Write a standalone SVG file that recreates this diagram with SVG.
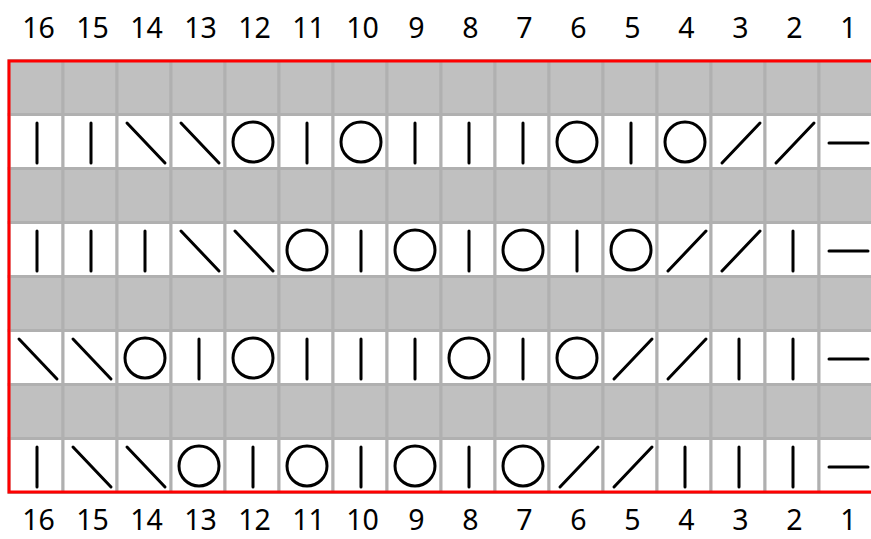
<svg xmlns="http://www.w3.org/2000/svg" xmlns:xlink="http://www.w3.org/1999/xlink" width="871" height="539" viewBox="0 0 871 539">
<style>
.lbl{font-family:"Noto Sans","Open Sans",sans-serif;font-size:28.5px;fill:#000;text-anchor:middle}
.g{fill:#c0c0c0;stroke:#b0b0b0;stroke-width:3}
.w{fill:#fff;stroke:#b0b0b0;stroke-width:3}
.s{fill:none;stroke:#000;stroke-width:3;stroke-linecap:round}
</style>
<defs>
<path id="v" class="s" d="M0,-19V21"/>
<path id="b" class="s" d="M-18,-19L20,21"/>
<path id="f" class="s" d="M-17,21L21,-19"/>
<path id="d" class="s" d="M-18,1H21"/>
<circle id="o" class="s" r="20"/>
</defs>
<g id="top-labels">
<text class="lbl" x="38.5" y="38">16</text><text class="lbl" x="92.5" y="38">15</text><text class="lbl" x="146.5" y="38">14</text><text class="lbl" x="200.5" y="38">13</text><text class="lbl" x="254.5" y="38">12</text><text class="lbl" x="308.5" y="38">11</text><text class="lbl" x="362.5" y="38">10</text><text class="lbl" x="416.5" y="38">9</text><text class="lbl" x="470.5" y="38">8</text><text class="lbl" x="524.5" y="38">7</text><text class="lbl" x="578.5" y="38">6</text><text class="lbl" x="632.5" y="38">5</text><text class="lbl" x="686.5" y="38">4</text><text class="lbl" x="740.5" y="38">3</text><text class="lbl" x="794.5" y="38">2</text><text class="lbl" x="848.5" y="38">1</text>
</g>
<g id="bottom-labels">
<text class="lbl" x="38.5" y="530">16</text><text class="lbl" x="92.5" y="530">15</text><text class="lbl" x="146.5" y="530">14</text><text class="lbl" x="200.5" y="530">13</text><text class="lbl" x="254.5" y="530">12</text><text class="lbl" x="308.5" y="530">11</text><text class="lbl" x="362.5" y="530">10</text><text class="lbl" x="416.5" y="530">9</text><text class="lbl" x="470.5" y="530">8</text><text class="lbl" x="524.5" y="530">7</text><text class="lbl" x="578.5" y="530">6</text><text class="lbl" x="632.5" y="530">5</text><text class="lbl" x="686.5" y="530">4</text><text class="lbl" x="740.5" y="530">3</text><text class="lbl" x="794.5" y="530">2</text><text class="lbl" x="848.5" y="530">1</text>
</g>
<g id="cells">
<g id="row1"><rect class="g" x="9" y="60.5" width="54" height="54"/><rect class="g" x="63" y="60.5" width="54" height="54"/><rect class="g" x="117" y="60.5" width="54" height="54"/><rect class="g" x="171" y="60.5" width="54" height="54"/><rect class="g" x="225" y="60.5" width="54" height="54"/><rect class="g" x="279" y="60.5" width="54" height="54"/><rect class="g" x="333" y="60.5" width="54" height="54"/><rect class="g" x="387" y="60.5" width="54" height="54"/><rect class="g" x="441" y="60.5" width="54" height="54"/><rect class="g" x="495" y="60.5" width="54" height="54"/><rect class="g" x="549" y="60.5" width="54" height="54"/><rect class="g" x="603" y="60.5" width="54" height="54"/><rect class="g" x="657" y="60.5" width="54" height="54"/><rect class="g" x="711" y="60.5" width="54" height="54"/><rect class="g" x="765" y="60.5" width="54" height="54"/><rect class="g" x="819" y="60.5" width="54" height="54"/></g>
<g id="row2"><rect class="w" x="9" y="114.5" width="54" height="54"/><rect class="w" x="63" y="114.5" width="54" height="54"/><rect class="w" x="117" y="114.5" width="54" height="54"/><rect class="w" x="171" y="114.5" width="54" height="54"/><rect class="w" x="225" y="114.5" width="54" height="54"/><rect class="w" x="279" y="114.5" width="54" height="54"/><rect class="w" x="333" y="114.5" width="54" height="54"/><rect class="w" x="387" y="114.5" width="54" height="54"/><rect class="w" x="441" y="114.5" width="54" height="54"/><rect class="w" x="495" y="114.5" width="54" height="54"/><rect class="w" x="549" y="114.5" width="54" height="54"/><rect class="w" x="603" y="114.5" width="54" height="54"/><rect class="w" x="657" y="114.5" width="54" height="54"/><rect class="w" x="711" y="114.5" width="54" height="54"/><rect class="w" x="765" y="114.5" width="54" height="54"/><rect class="w" x="819" y="114.5" width="54" height="54"/></g>
<g id="row3"><rect class="g" x="9" y="168.5" width="54" height="54"/><rect class="g" x="63" y="168.5" width="54" height="54"/><rect class="g" x="117" y="168.5" width="54" height="54"/><rect class="g" x="171" y="168.5" width="54" height="54"/><rect class="g" x="225" y="168.5" width="54" height="54"/><rect class="g" x="279" y="168.5" width="54" height="54"/><rect class="g" x="333" y="168.5" width="54" height="54"/><rect class="g" x="387" y="168.5" width="54" height="54"/><rect class="g" x="441" y="168.5" width="54" height="54"/><rect class="g" x="495" y="168.5" width="54" height="54"/><rect class="g" x="549" y="168.5" width="54" height="54"/><rect class="g" x="603" y="168.5" width="54" height="54"/><rect class="g" x="657" y="168.5" width="54" height="54"/><rect class="g" x="711" y="168.5" width="54" height="54"/><rect class="g" x="765" y="168.5" width="54" height="54"/><rect class="g" x="819" y="168.5" width="54" height="54"/></g>
<g id="row4"><rect class="w" x="9" y="222.5" width="54" height="54"/><rect class="w" x="63" y="222.5" width="54" height="54"/><rect class="w" x="117" y="222.5" width="54" height="54"/><rect class="w" x="171" y="222.5" width="54" height="54"/><rect class="w" x="225" y="222.5" width="54" height="54"/><rect class="w" x="279" y="222.5" width="54" height="54"/><rect class="w" x="333" y="222.5" width="54" height="54"/><rect class="w" x="387" y="222.5" width="54" height="54"/><rect class="w" x="441" y="222.5" width="54" height="54"/><rect class="w" x="495" y="222.5" width="54" height="54"/><rect class="w" x="549" y="222.5" width="54" height="54"/><rect class="w" x="603" y="222.5" width="54" height="54"/><rect class="w" x="657" y="222.5" width="54" height="54"/><rect class="w" x="711" y="222.5" width="54" height="54"/><rect class="w" x="765" y="222.5" width="54" height="54"/><rect class="w" x="819" y="222.5" width="54" height="54"/></g>
<g id="row5"><rect class="g" x="9" y="276.5" width="54" height="54"/><rect class="g" x="63" y="276.5" width="54" height="54"/><rect class="g" x="117" y="276.5" width="54" height="54"/><rect class="g" x="171" y="276.5" width="54" height="54"/><rect class="g" x="225" y="276.5" width="54" height="54"/><rect class="g" x="279" y="276.5" width="54" height="54"/><rect class="g" x="333" y="276.5" width="54" height="54"/><rect class="g" x="387" y="276.5" width="54" height="54"/><rect class="g" x="441" y="276.5" width="54" height="54"/><rect class="g" x="495" y="276.5" width="54" height="54"/><rect class="g" x="549" y="276.5" width="54" height="54"/><rect class="g" x="603" y="276.5" width="54" height="54"/><rect class="g" x="657" y="276.5" width="54" height="54"/><rect class="g" x="711" y="276.5" width="54" height="54"/><rect class="g" x="765" y="276.5" width="54" height="54"/><rect class="g" x="819" y="276.5" width="54" height="54"/></g>
<g id="row6"><rect class="w" x="9" y="330.5" width="54" height="54"/><rect class="w" x="63" y="330.5" width="54" height="54"/><rect class="w" x="117" y="330.5" width="54" height="54"/><rect class="w" x="171" y="330.5" width="54" height="54"/><rect class="w" x="225" y="330.5" width="54" height="54"/><rect class="w" x="279" y="330.5" width="54" height="54"/><rect class="w" x="333" y="330.5" width="54" height="54"/><rect class="w" x="387" y="330.5" width="54" height="54"/><rect class="w" x="441" y="330.5" width="54" height="54"/><rect class="w" x="495" y="330.5" width="54" height="54"/><rect class="w" x="549" y="330.5" width="54" height="54"/><rect class="w" x="603" y="330.5" width="54" height="54"/><rect class="w" x="657" y="330.5" width="54" height="54"/><rect class="w" x="711" y="330.5" width="54" height="54"/><rect class="w" x="765" y="330.5" width="54" height="54"/><rect class="w" x="819" y="330.5" width="54" height="54"/></g>
<g id="row7"><rect class="g" x="9" y="384.5" width="54" height="54"/><rect class="g" x="63" y="384.5" width="54" height="54"/><rect class="g" x="117" y="384.5" width="54" height="54"/><rect class="g" x="171" y="384.5" width="54" height="54"/><rect class="g" x="225" y="384.5" width="54" height="54"/><rect class="g" x="279" y="384.5" width="54" height="54"/><rect class="g" x="333" y="384.5" width="54" height="54"/><rect class="g" x="387" y="384.5" width="54" height="54"/><rect class="g" x="441" y="384.5" width="54" height="54"/><rect class="g" x="495" y="384.5" width="54" height="54"/><rect class="g" x="549" y="384.5" width="54" height="54"/><rect class="g" x="603" y="384.5" width="54" height="54"/><rect class="g" x="657" y="384.5" width="54" height="54"/><rect class="g" x="711" y="384.5" width="54" height="54"/><rect class="g" x="765" y="384.5" width="54" height="54"/><rect class="g" x="819" y="384.5" width="54" height="54"/></g>
<g id="row8"><rect class="w" x="9" y="438.5" width="54" height="54"/><rect class="w" x="63" y="438.5" width="54" height="54"/><rect class="w" x="117" y="438.5" width="54" height="54"/><rect class="w" x="171" y="438.5" width="54" height="54"/><rect class="w" x="225" y="438.5" width="54" height="54"/><rect class="w" x="279" y="438.5" width="54" height="54"/><rect class="w" x="333" y="438.5" width="54" height="54"/><rect class="w" x="387" y="438.5" width="54" height="54"/><rect class="w" x="441" y="438.5" width="54" height="54"/><rect class="w" x="495" y="438.5" width="54" height="54"/><rect class="w" x="549" y="438.5" width="54" height="54"/><rect class="w" x="603" y="438.5" width="54" height="54"/><rect class="w" x="657" y="438.5" width="54" height="54"/><rect class="w" x="711" y="438.5" width="54" height="54"/><rect class="w" x="765" y="438.5" width="54" height="54"/><rect class="w" x="819" y="438.5" width="54" height="54"/></g>
</g>
<g id="symbols">
<g id="sym-row2" transform="translate(0,142)">
<use xlink:href="#v" x="37"/><use xlink:href="#v" x="91"/><use xlink:href="#b" x="145"/><use xlink:href="#b" x="199"/><use xlink:href="#o" x="253"/><use xlink:href="#v" x="307"/><use xlink:href="#o" x="361"/><use xlink:href="#v" x="415"/><use xlink:href="#v" x="469"/><use xlink:href="#v" x="523"/><use xlink:href="#o" x="577"/><use xlink:href="#v" x="631"/><use xlink:href="#o" x="685"/><use xlink:href="#f" x="739"/><use xlink:href="#f" x="793"/><use xlink:href="#d" x="847"/>
</g>
<g id="sym-row4" transform="translate(0,250)">
<use xlink:href="#v" x="37"/><use xlink:href="#v" x="91"/><use xlink:href="#v" x="145"/><use xlink:href="#b" x="199"/><use xlink:href="#b" x="253"/><use xlink:href="#o" x="307"/><use xlink:href="#v" x="361"/><use xlink:href="#o" x="415"/><use xlink:href="#v" x="469"/><use xlink:href="#o" x="523"/><use xlink:href="#v" x="577"/><use xlink:href="#o" x="631"/><use xlink:href="#f" x="685"/><use xlink:href="#f" x="739"/><use xlink:href="#v" x="793"/><use xlink:href="#d" x="847"/>
</g>
<g id="sym-row6" transform="translate(0,358)">
<use xlink:href="#b" x="37"/><use xlink:href="#b" x="91"/><use xlink:href="#o" x="145"/><use xlink:href="#v" x="199"/><use xlink:href="#o" x="253"/><use xlink:href="#v" x="307"/><use xlink:href="#v" x="361"/><use xlink:href="#v" x="415"/><use xlink:href="#o" x="469"/><use xlink:href="#v" x="523"/><use xlink:href="#o" x="577"/><use xlink:href="#f" x="631"/><use xlink:href="#f" x="685"/><use xlink:href="#v" x="739"/><use xlink:href="#v" x="793"/><use xlink:href="#d" x="847"/>
</g>
<g id="sym-row8" transform="translate(0,466)">
<use xlink:href="#v" x="37"/><use xlink:href="#b" x="91"/><use xlink:href="#b" x="145"/><use xlink:href="#o" x="199"/><use xlink:href="#v" x="253"/><use xlink:href="#o" x="307"/><use xlink:href="#v" x="361"/><use xlink:href="#o" x="415"/><use xlink:href="#v" x="469"/><use xlink:href="#o" x="523"/><use xlink:href="#f" x="577"/><use xlink:href="#f" x="631"/><use xlink:href="#v" x="685"/><use xlink:href="#v" x="739"/><use xlink:href="#v" x="793"/><use xlink:href="#d" x="847"/>
</g>
</g>
<rect id="border" x="9" y="61" width="864" height="431" fill="none" stroke="#ff0000" stroke-width="3"/>
</svg>
